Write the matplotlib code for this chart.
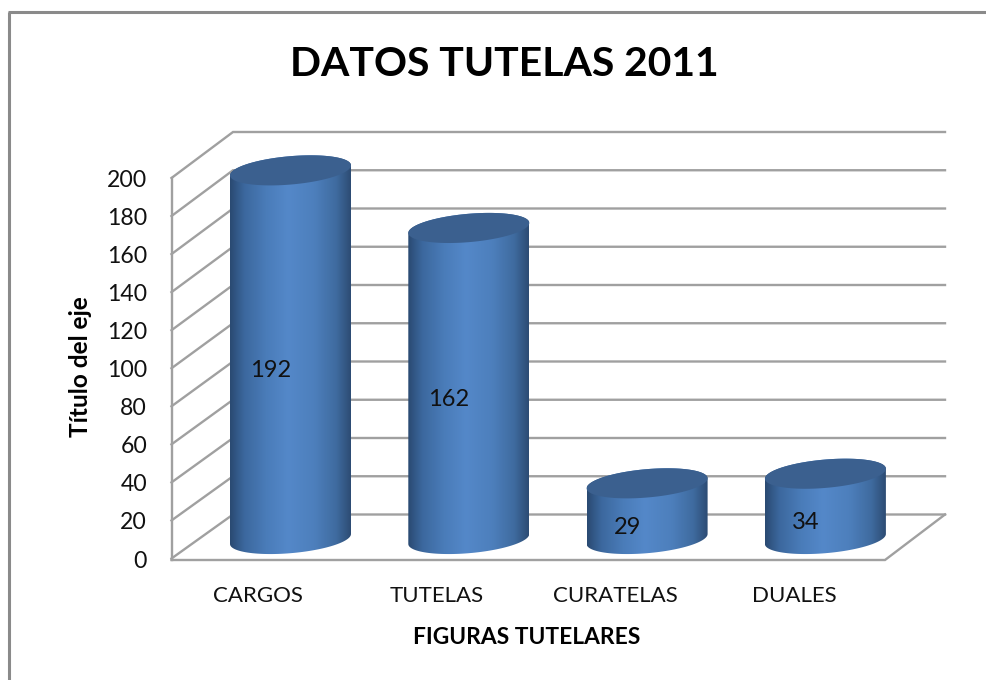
import numpy as np
import matplotlib
matplotlib.use("Agg")
import matplotlib.pyplot as plt
from matplotlib.colors import LinearSegmentedColormap
from matplotlib.patches import Polygon

categories = ["CARGOS", "TUTELAS", "CURATELAS", "DUALES"]
values = [192, 162, 29, 34]
ticks = [0, 20, 40, 60, 80, 100, 120, 140, 160, 180, 200]
title = "DATOS TUTELAS 2011"
x_title = "FIGURAS TUTELARES"
y_title = "Título del eje"

plt.rcParams["font.family"] = ["Lato", "DejaVu Sans"]
W, H = 987, 680
fig = plt.figure(figsize=(W / 100, H / 100), dpi=100, facecolor="white")

# frame / wall layer in pixel units
bg = fig.add_axes([0, 0, 1, 1])
bg.set_xlim(0, W)
bg.set_ylim(H, 0)
bg.axis("off")
GRID = "#a0a0a0"
TXT = "#111111"
front_y = lambda v: 558.5 - 1.9025 * v
back_y = lambda v: 514.5 - 1.9125 * v
XF, XB, XR, XFR = 171.5, 233, 945, 885

bg.plot([9, 9], [H, 12], color="#8a8a8a", lw=2.2, solid_capstyle="butt")
bg.plot([8, W], [12, 12], color="#8a8a8a", lw=2.2, solid_capstyle="butt")

for v in ticks:
    bg.plot([XF, XB, XR], [front_y(v), back_y(v), back_y(v)], color=GRID, lw=1.7,
            solid_joinstyle="miter")
    bg.text(147, front_y(v) + 2.5, str(v), ha="right", va="center", fontsize=16.6, color=TXT)
bg.plot([XF, XF], [front_y(200), 560], color=GRID, lw=1.7)
bg.plot([XF, XFR, XR], [560, 560, back_y(0)], color=GRID, lw=1.7, solid_joinstyle="miter")

bg.text(504, 65, title, ha="center", va="center", fontsize=29.4, fontweight="bold", color="black")
bg.text(527, 637, x_title, ha="center", va="center", fontsize=16.4, fontweight="bold", color="black")
bg.text(81, 367, y_title, ha="center", va="center", rotation=90, fontsize=17.6, fontweight="bold", color="black")

# data layer: x in category position, y in value
STEP, X0, Y0, SCALE = 178.3, 290.5, 539.0, 1.92
ax = fig.add_axes([0, 0, 1, 1])
ax.patch.set_alpha(0)
xlim = ((0 - X0) / STEP, (W - X0) / STEP)
ylim = ((Y0 - H) / SCALE, Y0 / SCALE)
ax.axis("off")

cmap = LinearSegmentedColormap.from_list("cyl", [
    (0.00, "#2a4a72"), (0.12, "#3c689e"), (0.30, "#4a7cb9"), (0.48, "#5488c9"),
    (0.70, "#4d7fbc"), (0.88, "#3f6b9f"), (1.00, "#2d4c74")])
grad = np.linspace(0, 1, 256).reshape(1, -1)

A = 60.5 / STEP       # half width
TILT = 5.0 / SCALE    # ellipse tilt
B = 14.2 / SCALE      # ellipse half height
t = np.linspace(0, 2 * np.pi, 121)


def ellipse(i, v, tt):
    return i + A * np.cos(tt), v + TILT * np.cos(tt) + B * np.sin(tt)


for i, v in enumerate(values):
    tb = np.linspace(np.pi, 2 * np.pi, 61)
    xb, yb = ellipse(i, 0, tb)
    tt_ = np.linspace(0, np.pi, 61)
    xt, yt = ellipse(i, v, tt_)
    verts = np.column_stack([np.r_[xb, xt], np.r_[yb, yt]])
    body = Polygon(verts, closed=True, fc="none", ec="none")
    ax.add_patch(body)
    im = ax.imshow(grad, extent=[i - A, i + A, -20, 215], cmap=cmap, aspect="auto",
                   origin="lower", interpolation="bilinear", vmin=0, vmax=1)
    im.set_clip_path(body)
    xc, yc = ellipse(i, v, t)
    ax.fill(xc, yc, color="#3b608f", lw=0)
    ax.annotate(str(v), (i, v / 2), xytext=(-20 * 0.72, -16 * 0.72),
                textcoords="offset points", ha="center", va="center",
                fontsize=17, color=TXT)

for i, c in enumerate(categories):
    bg.text(257.5 + 179 * i, 595.5, c, ha="center", va="center", fontsize=16, color=TXT)

ax.set_xlim(*xlim)
ax.set_ylim(*ylim)
fig.savefig("out.png", dpi=100, facecolor="white")
